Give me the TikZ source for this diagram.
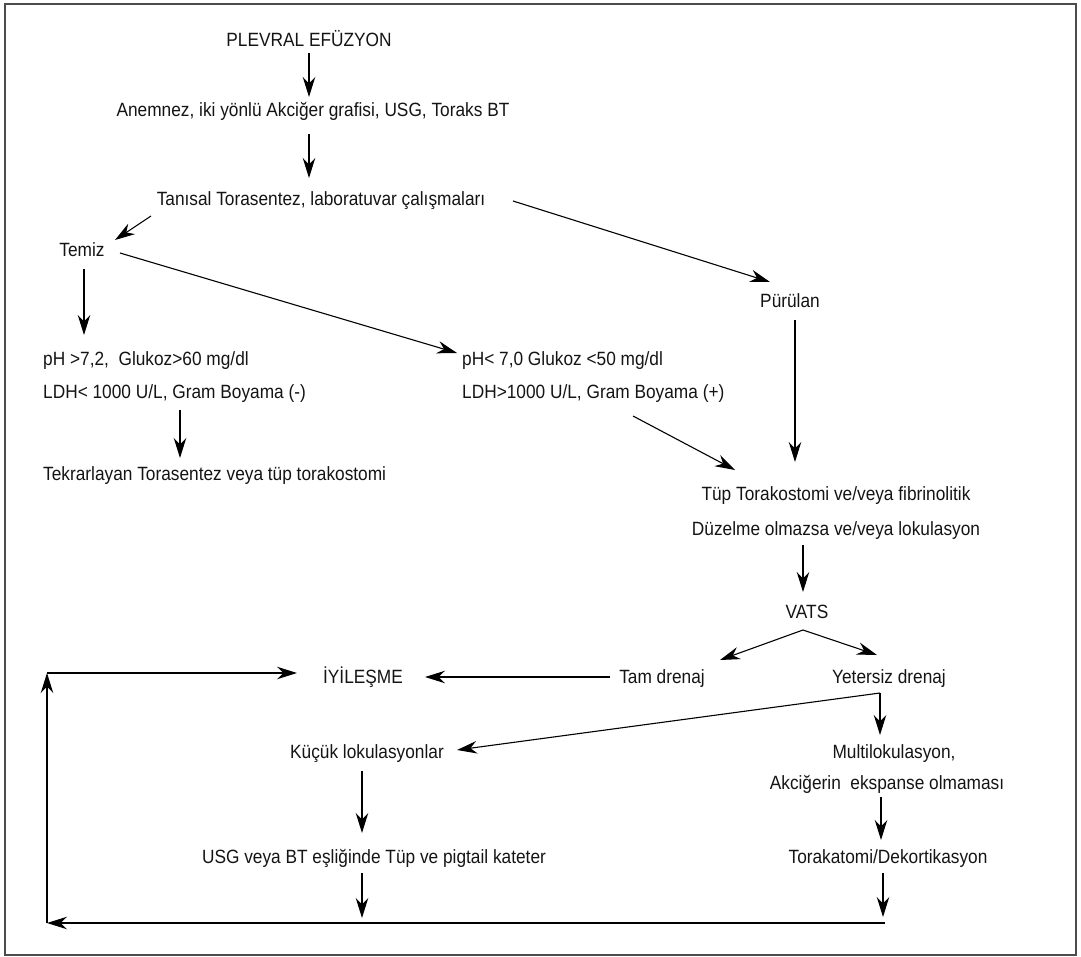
\documentclass[tikz,border=0pt]{standalone}
\usepackage{fontspec}
\setmainfont{Liberation Sans}[FakeStretch=0.9]
\usetikzlibrary{arrows.meta}
\begin{document}
\begin{tikzpicture}[x=1pt,y=-1pt,
  t/.style={inner sep=0pt,font=\fontsize{19.2}{21}\selectfont,anchor=base,text=black!92},
  tw/.style={t,anchor=base west},
  arr/.style={line width=1.1pt,-{Stealth[length=20pt,width=12.5pt,inset=6.5pt]}},
  ln/.style={line width=1.1pt},
  frame/.style={draw=black!70,line width=2pt}]
\useasboundingbox (0,0) rectangle (1081,957);
\draw[frame] (5,4) rectangle (1076,955);
% nodes
\node[t] (plevral) at (309,47) {PLEVRAL EFÜZYON};
\node[t] (anem) at (313,117) {Anemnez, iki yönlü Akciğer grafisi, USG, Toraks BT};
\node[t] (tanis) at (321,206) {Tanısal Torasentez, laboratuvar çalışmaları};
\node[t] (temiz) at (82,257) {Temiz};
\node[t] (purulan) at (790,308) {Pürülan};
\node[tw] (pha) at (43,366) {pH >7,2,\ \ Glukoz>60 mg/dl};
\node[tw] (phb) at (43,398) {LDH< 1000 U/L, Gram Boyama (-)};
\node[tw] (tekrar) at (43,480) {Tekrarlayan Torasentez veya tüp torakostomi};
\node[tw] (pkb) at (462,366) {pH< 7,0 Glukoz <50 mg/dl};
\node[tw] (pkl) at (462,398) {LDH>1000 U/L, Gram Boyama (+)};
\node[t] (tup) at (836,500) {Tüp Torakostomi ve/veya fibrinolitik};
\node[t] (duz) at (836,535) {Düzelme olmazsa ve/veya lokulasyon};
\node[t] (vats) at (807,618) {VATS};
\node[t] (tam) at (662,683) {Tam drenaj};
\node[t] (iyi) at (363,683) {İYİLEŞME};
\node[t] (yet) at (889,683) {Yetersiz drenaj};
\node[t] (kucuk) at (367,758) {Küçük lokulasyonlar};
\node[t] (multi) at (894,758) {Multilokulasyon,};
\node[t] (akc) at (887,789) {Akciğerin\ \ ekspanse olmaması};
\node[t] (usg) at (374,863) {USG veya BT eşliğinde Tüp ve pigtail kateter};
\node[t] (tora) at (888,863) {Torakatomi/Dekortikasyon};
% coordinates
\coordinate (yc) at (880,693);
\coordinate (usgend) at (362,918);
\coordinate (toraend) at (883,917);
\coordinate (botR) at (885,923);
\coordinate (botL) at (47,923);
\coordinate (topL) at (47,673);
% connectors
\draw[arr] ([shift={(0,6)}]plevral.base) -- ([shift={(-4,-20)}]anem.base);
\draw[arr] ([shift={(-4,17)}]anem.base) -- ([shift={(-12,-28)}]tanis.base);
\draw[arr] ([shift={(-170,10)}]tanis.base) -- ([shift={(33,-17)}]temiz.base);
\draw[arr] ([shift={(192,-5)}]tanis.base) -- ([shift={(-20,-26)}]purulan.base);
\draw[arr] ([shift={(2,12)}]temiz.base) -- ([shift={(41,-31)}]pha.base west);
\draw[arr] ([shift={(38,-4)}]temiz.base) -- ([shift={(-5,-13)}]pkb.base west);
\draw[arr] ([shift={(137,12)}]phb.base west) -- ([shift={(137,-22)}]tekrar.base west);
\draw[arr] ([shift={(171,18)}]pkl.base west) -- ([shift={(-101,-30)}]tup.base);
\draw[arr] ([shift={(5,12)}]purulan.base) -- ([shift={(-41,-38)}]tup.base);
\draw[arr] ([shift={(-33,10)}]duz.base) -- ([shift={(-4,-26)}]vats.base);
\draw[arr] ([shift={(-4,12)}]vats.base) -- ([shift={(58,-23)}]tam.base);
\draw[arr] ([shift={(-4,12)}]vats.base) -- ([shift={(-12,-28)}]yet.base);
\draw[arr] ([shift={(-52,-6)}]tam.base) -- ([shift={(62,-6)}]iyi.base);
\draw[ln] ([shift={(-9,10)}]yet.base) -- (yc);
\draw[arr] (yc) -- ([shift={(-14,-23)}]multi.base);
\draw[arr] (yc) -- ([shift={(90,-8)}]kucuk.base);
\draw[arr] ([shift={(-5,13)}]kucuk.base) -- ([shift={(-12,-30)}]usg.base);
\draw[arr] ([shift={(-6,8)}]akc.base) -- ([shift={(-7,-23)}]tora.base);
\draw[arr] ([shift={(-12,10)}]usg.base) -- (usgend);
\draw[arr] ([shift={(-5,10)}]tora.base) -- (toraend);
\draw[arr] (botR) -- (botL);
\draw[arr] (botL) -- (topL);
\draw[arr] (topL) -- ([shift={(-66,-10)}]iyi.base);
\end{tikzpicture}
\end{document}
